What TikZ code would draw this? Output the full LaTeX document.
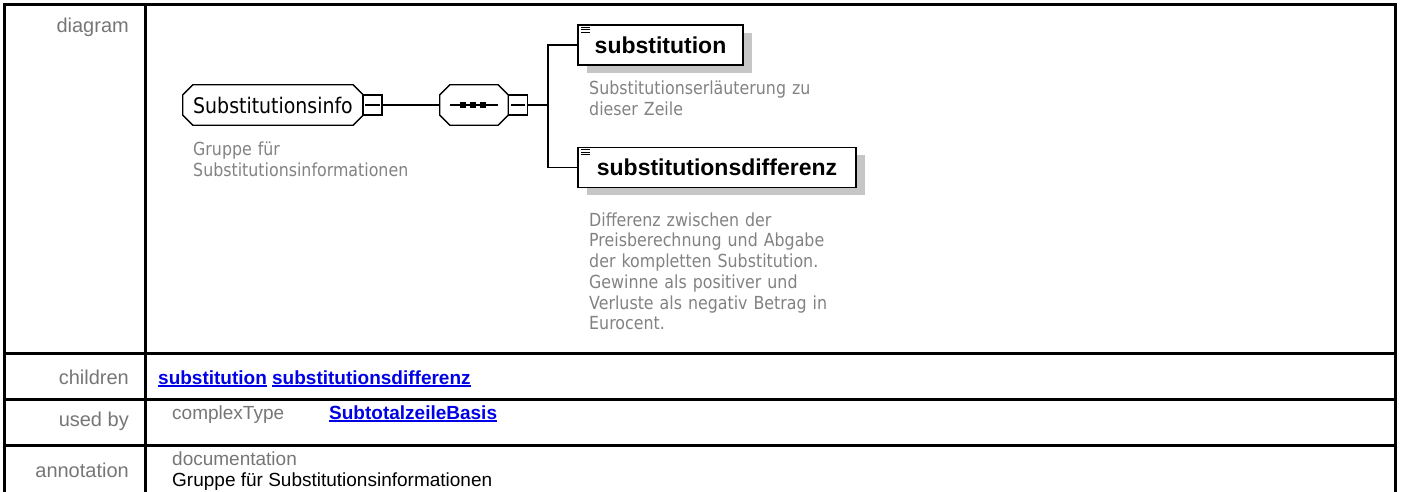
\documentclass[tikz,border=0pt]{standalone}
\usepackage{fontspec}
\setmainfont{Liberation Sans}
\newfontfamily\descfont[FakeStretch=0.88]{DejaVu Sans}
\usetikzlibrary{calc,backgrounds,shadows}
\definecolor{lblgray}{RGB}{118,118,118}
\definecolor{descgray}{RGB}{130,130,130}
\definecolor{shadowgray}{RGB}{198,198,198}
\definecolor{linkblue}{RGB}{0,0,230}
\newcommand\lnk[1]{\setbox0\hbox{#1}\rlap{\rule[-2.6pt]{\wd0}{1.6pt}}\box0\relax}
\newcommand\chamfpath[2]{% node name, chamfer
  ($(#1.north west)+(#2,0)$) -- ($(#1.north east)+(-#2,0)$) -- ($(#1.north east)+(0,#2)$) --
  ($(#1.south east)+(0,-#2)$) -- ($(#1.south east)+(-#2,0)$) -- ($(#1.south west)+(#2,0)$) --
  ($(#1.south west)+(0,-#2)$) -- ($(#1.north west)+(0,#2)$) -- cycle}
\begin{document}
\begin{tikzpicture}[x=1pt,y=-1pt,
  tbl/.style={line width=3pt},
  lbl/.style={font=\fontsize{20}{23}\selectfont, text=lblgray, anchor=base east, inner sep=0pt},
  cell/.style={font=\fontsize{19}{22}\selectfont, anchor=base west, inner sep=0pt},
  desc/.style={font=\descfont\fontsize{18}{20.8}\selectfont, text=descgray, anchor=base west,
     inner sep=0pt, text width=260pt, align=left},
  grp/.style={minimum width=180pt, minimum height=40pt, inner sep=0pt,
     font=\descfont\fontsize{21.5}{24}\selectfont},
  seqn/.style={minimum width=68pt, minimum height=40pt, inner sep=0pt},
  minbox/.style={draw, line width=1.3pt, fill=white, minimum width=19pt, minimum height=20pt, inner sep=0pt},
  elem/.style={draw, line width=1.5pt, fill=white, minimum height=40pt, inner sep=0pt,
     font=\bfseries\fontsize{23}{26}\selectfont,
     drop shadow={shadow xshift=9pt, shadow yshift=-8pt, fill=shadowgray, opacity=1}},
  conn/.style={line width=1.3pt},
  chamfline/.style={line width=1.3pt, fill=white},
  shad/.style={fill=shadowgray},
  ]
\useasboundingbox (0,0) rectangle (1401,492);
% table frame
\draw[tbl] (4.5,492) -- (4.5,4.5) -- (1395.5,4.5) -- (1395.5,492);
\draw[tbl] (145,4.5) -- (145,492);
\foreach \yy in {353,399,445} \draw[tbl] (4.5,\yy) -- (1395.5,\yy);
% row labels
\node[lbl] (ldiag) at (129,33) {diagram};
\node[lbl] (lchild) at (129,384) {children};
\node[lbl] (lused) at (129,426) {used by};
\node[lbl] (lann) at (129,477) {annotation};
% row contents
\node[cell] (children) at (158,384) {\color{linkblue}\bfseries\lnk{substitution} \lnk{substitutionsdifferenz}};
\node[cell, text=lblgray] (ctype) at (172,419) {complexType};
\node[cell] (ctlink) at (329,419) {\color{linkblue}\bfseries\lnk{SubtotalzeileBasis}};
\node[cell, text=lblgray] (docu) at (172,465) {documentation};
\node[cell] (doctext) at (172,486) {Gruppe für Substitutionsinformationen};
% group node
\node[grp] (g) at (273,105) {Substitutionsinfo};
\begin{scope}[on background layer]
  \fill[shad, shift={(7,8)}] \chamfpath{g}{10};
  \draw[chamfline] \chamfpath{g}{10};
\end{scope}
\node[minbox] (gmin) at (372.5,105) {};
\draw[line width=1.3pt] ([xshift=3pt]gmin.west) -- ([xshift=-3pt]gmin.east);
\node[desc] (gdesc) at (193,156) {Gruppe für\\Substitutionsinformationen};
% sequence node
\node[seqn] (seq) at (474,105) {};
\begin{scope}[on background layer]
  \fill[shad, shift={(7,8)}] \chamfpath{seq}{10};
  \draw[chamfline] \chamfpath{seq}{10};
\end{scope}
\draw[conn] ([xshift=10pt]seq.west) -- ([xshift=-10pt]seq.east);
\foreach \dx in {-11,-1,9} \fill ($(seq.center)+(\dx-2.75,-2.75)$) rectangle +(5.5,5.5);
\node[minbox] (seqmin) at (518,105) {};
\draw[line width=1.3pt] ([xshift=3pt]seqmin.west) -- ([xshift=-3pt]seqmin.east);
\draw[conn] (gmin.east) -- (seq.west);
\coordinate (br) at (548,105);
\draw[conn] (seqmin.east) -- (br);
% elements
\node[elem, minimum width=165pt] (sub) at (660.5,45) {substitution};
\node[elem, minimum width=278pt] (diff) at (717,167.5) {substitutionsdifferenz};
\foreach \n in {sub,diff} \foreach \dy in {3,5.5,8}
  \draw[line width=1pt] ($(\n.north west)+(4,\dy)$) -- +(9,0);
\draw[conn] (sub.west) -| (br) |- (diff.west);
\node[desc] (sdesc) at (589,95) {Substitutionserläuterung zu\\dieser Zeile};
\node[desc] (ddesc) at (589,226) {Differenz zwischen der\\Preisberechnung und Abgabe\\der kompletten Substitution.\\Gewinne als positiver und\\Verluste als negativ Betrag in\\Eurocent.};
\end{tikzpicture}
\end{document}
